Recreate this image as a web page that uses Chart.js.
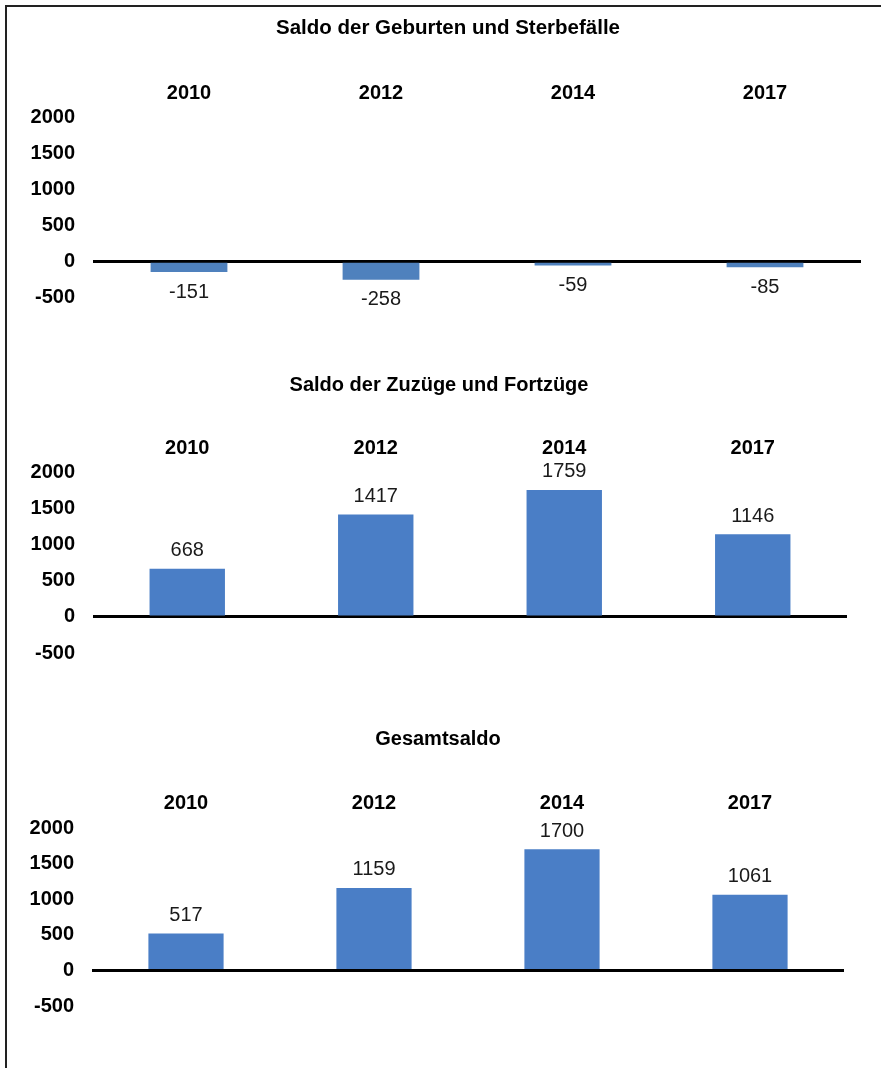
<!DOCTYPE html>
<html lang="de">
<head>
  <meta charset="UTF-8">
  <title>Saldo der Bevölkerungsbewegung</title>
  <script src="https://cdn.jsdelivr.net/npm/chart.js"></script>
  <style>
    html, body {
      margin: 0;
      padding: 0;
      background: #ffffff;
      overflow: hidden;
    }
    .frame {
      position: absolute;
      left: 5px;
      top: 5px;
      width: 900px;
      height: 1100px;
      border-left: 2px solid #222;
      border-top: 2px solid #222;
    }
    .box {
      position: absolute;
      left: 0;
      width: 881px;
    }
  </style>
</head>
<body>
  <div class="frame"></div>
  <div class="box" style="top:0px;height:340px"><canvas id="chart1"></canvas></div>
  <div class="box" style="top:340px;height:360px"><canvas id="chart2"></canvas></div>
  <div class="box" style="top:700px;height:368px"><canvas id="chart3"></canvas></div>

  <script>
    // data
    const years = ['2010', '2012', '2014', '2017'];
    const saldoGeburten = [-151, -258, -59, -85];
    const saldoWanderung = [668, 1417, 1759, 1146];
    const gesamtSaldo = [517, 1159, 1700, 1061];
    const yMin = -500;
    const yMax = 2000;
    const yStep = 500;

    const FONT = "'Liberation Sans', Arial, sans-serif";

    // writes the value above (or below, if negative) each bar
    const valueLabels = {
      id: 'valueLabels',
      afterDatasetsDraw(chart) {
        const ctx = chart.ctx;
        const meta = chart.getDatasetMeta(0);
        const data = chart.data.datasets[0].data;
        ctx.save();
        ctx.font = '20px ' + FONT;
        ctx.fillStyle = '#1a1a1a';
        ctx.textAlign = 'center';
        ctx.textBaseline = 'middle';
        meta.data.forEach((bar, i) => {
          const v = data[i];
          const y = v < 0 ? bar.y + 20 : bar.y - 18;
          ctx.fillText(String(v), bar.x, y);
        });
        ctx.restore();
      }
    };

    // y tick labels are clipped to the axis box; widen it to the left edge
    const widenAxis = {
      id: 'widenAxis',
      afterLayout(chart) {
        chart.scales.y.left = 0;
      }
    };

    function makeChart(id, title, values, color, lay) {
      const ctx = document.getElementById(id).getContext('2d');
      return new Chart(ctx, {
        type: 'bar',
        data: {
          labels: years,
          datasets: [{
            data: values,
            backgroundColor: color,
            borderWidth: 0,
            categoryPercentage: 1,
            barPercentage: 0.4
          }]
        },
        plugins: [valueLabels, widenAxis],
        options: {
          responsive: true,
          maintainAspectRatio: false,
          animation: false,
          layout: {
            padding: { left: lay.left, right: lay.right, top: 0, bottom: lay.bottom }
          },
          plugins: {
            legend: { display: false },
            tooltip: { enabled: false },
            title: {
              display: true,
              text: title,
              color: '#000',
              font: { family: FONT, size: lay.titleSize, weight: 'bold' },
              padding: { top: lay.titleTop, bottom: 10 }
            }
          },
          scales: {
            x: {
              position: 'top',
              afterFit(scale) { scale.height = lay.xH; },
              grid: { display: false, drawTicks: false },
              border: { display: false },
              ticks: {
                color: '#000',
                padding: lay.yearPad,
                font: { family: FONT, size: 20, weight: 'bold' }
              }
            },
            y: {
              min: yMin,
              max: yMax,
              z: 1,
              afterFit(scale) { scale.width = lay.axisW; },
              border: { display: false },
              grid: {
                drawTicks: false,
                color: c => (c.tick && c.tick.value === 0) ? '#000' : 'rgba(0,0,0,0)',
                lineWidth: c => (c.tick && c.tick.value === 0) ? 3 : 0
              },
              ticks: {
                stepSize: yStep,
                color: '#000',
                padding: 18,
                callback: v => String(v),
                font: { family: FONT, size: 20, weight: 'bold' }
              }
            }
          }
        }
      });
    }

    makeChart('chart1', 'Saldo der Geburten und Sterbefälle', saldoGeburten, '#4f81bd',
      { left: 35, right: 20, bottom: 43, axisW: 58, titleSize: 20.5, titleTop: 16, xH: 67.3, yearPad: 12.3 });
    makeChart('chart2', 'Saldo der Zuzüge und Fortzüge', saldoWanderung, '#4a7ec6',
      { left: 31, right: 34, bottom: 47, axisW: 62, titleSize: 20, titleTop: 33, xH: 65.5, yearPad: 12.5 });
    makeChart('chart3', 'Gesamtsaldo', gesamtSaldo, '#4a7ec6',
      { left: 32, right: 37, bottom: 62, axisW: 60, titleSize: 20, titleTop: 27, xH: 67, yearPad: 12.3 });
  </script>
</body>
</html>
